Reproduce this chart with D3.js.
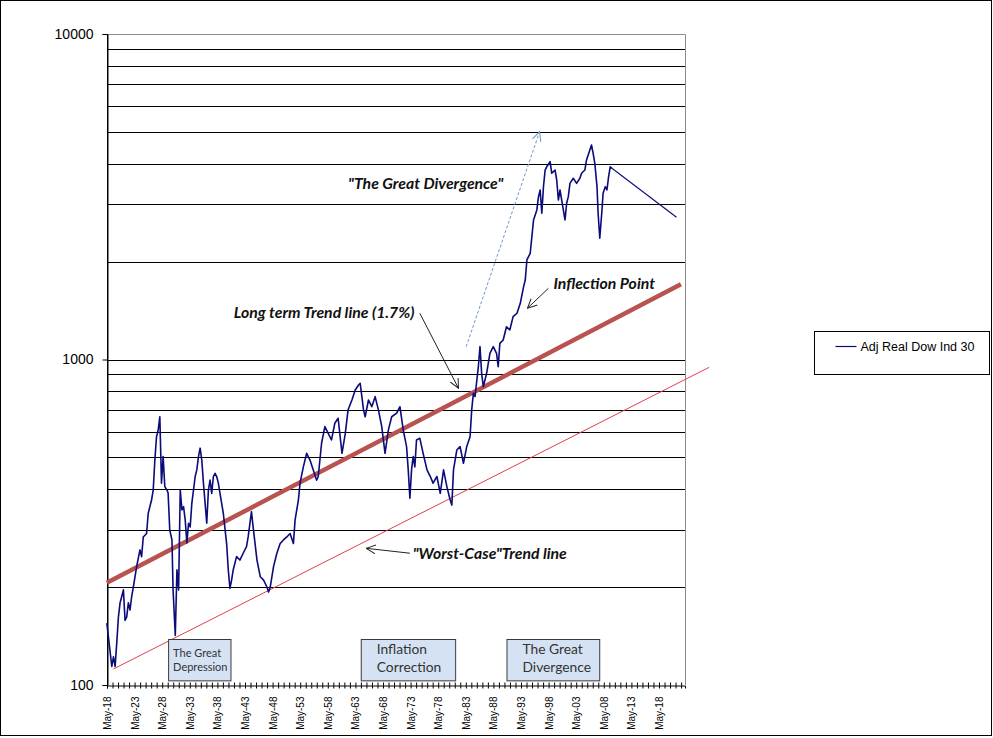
<!DOCTYPE html>
<html>
<head>
<meta charset="utf-8">
<script src="https://cdn.jsdelivr.net/npm/d3@7"></script>
<style>
  html, body { margin:0; padding:0; background:#fff; }
  svg { display:block; }
</style>
</head>
<body>
<div id="chart"></div>
<script>
// dow.js

// ── data (decimal year, real index value) ─────────────────────────────────
const YEARS = [
  1918.3,1919.2,1919.5,1919.8,1920.1,1920.4,1920.7,1921.0,1921.3,1921.6,1921.9,1922.2,1922.5,1922.8,
  1923.1,1923.7,1924.3,1924.6,1924.9,1925.5,1925.8,1926.4,1926.7,1927.0,1927.3,1927.6,1927.9,1928.2,
  1928.5,1928.8,1929.2,1929.4,1929.7,1930.1,1930.3,1930.7,1931.0,1931.3,1931.6,1931.9,1932.2,1932.5,
  1932.8,1933.1,1933.4,1933.7,1934.0,1934.3,1934.6,1934.9,1935.2,1935.5,1935.8,1936.1,1936.4,1936.7,
  1937.0,1937.3,1937.6,1937.9,1938.2,1938.5,1938.8,1939.4,1940.0,1940.3,1940.6,1940.9,1941.2,1941.8,
  1942.4,1943.0,1943.6,1943.9,1944.5,1944.8,1945.5,1946.1,1946.7,1947.3,1947.6,1947.9,1948.5,1949.1,
  1949.7,1950.3,1950.9,1951.5,1952.1,1952.4,1953.0,1953.3,1953.9,1954.5,1955.1,1955.7,1956.3,1956.6,
  1957.2,1957.8,1958.4,1959.0,1959.6,1960.2,1960.9,1961.5,1962.0,1962.7,1963.3,1963.9,1964.2,1964.8,
  1965.1,1965.7,1966.3,1966.9,1967.5,1968.1,1968.7,1969.3,1969.9,1970.8,1971.4,1972.0,1972.6,1972.9,
  1973.2,1973.5,1973.8,1974.1,1974.4,1975.0,1975.6,1976.3,1976.9,1977.4,1978.1,1978.7,1979.3,1979.9,
  1980.5,1980.8,1981.1,1981.7,1982.3,1982.9,1983.5,1984.1,1984.4,1984.7,1985.0,1985.6,1985.9,1986.2,
  1986.5,1987.1,1987.7,1988.3,1988.9,1989.2,1989.5,1990.1,1990.7,1991.3,1991.9,1992.6,1993.2,1993.8,
  1994.1,1994.4,1995.0,1995.3,1995.6,1996.2,1996.5,1996.8,1997.1,1997.4,1997.7,1998.0,1998.6,1998.9,
  1999.5,1999.8,2000.1,2000.4,2000.7,2001.3,2001.6,2001.9,2002.2,2002.8,2003.4,2004.0,2004.3,2004.9,
  2005.2,2005.8,2006.1,2006.4,2006.7,2007.1,2007.3,2007.6,2008.0,2008.2,2008.6,2008.9,2009.2,2009.5,
  2009.8,2021.5
];
const DOW = [
  155,114,122,114,135,162,179,187,196,158,162,179,170,187,
  200,231,260,248,285,292,337,370,397,491,579,607,667,417,
  503,407,397,389,299,279,196,142,226,196,397,345,353,321,
  273,314,306,362,397,437,458,503,534,491,417,362,314,397,
  426,388,437,447,437,417,388,337,272,226,198,210,226,248,
  242,254,266,285,341,306,242,215,210,200,193,200,231,254,
  272,279,285,292,272,321,370,417,468,515,491,458,426,437,
  553,622,593,566,637,660,515,593,700,751,806,835,845,700,
  667,751,716,769,700,622,515,607,667,684,716,607,540,458,
  375,458,503,468,566,573,515,458,437,417,437,388,458,407,
  370,357,458,527,540,480,540,579,700,787,769,950,1095,907,
  825,907,1045,1095,1045,950,1121,1148,1261,1232,1354,1387,1488,1674,
  1755,2022,2120,2384,2683,2880,3164,3317,2813,3396,3820,3911,4052,3733,
  3820,3560,3090,3317,3090,2683,3019,3164,3477,3603,3477,3603,3733,3820,
  4102,4401,4560,4300,4007,3396,2813,2357,2880,3240,3396,3317,3644,3911,
  3867,2735
];
const SERIES_NAME = "Adj Real Dow Ind 30";

const LABEL_YEARS = [1918,1923,1928,1933,1938,1943,1948,1953,1958,1963,1968,1973,1978,1983,1988,1993,1998,2003,2008,2013,2018];
const TICK_YEARS  = d3.range(1918, 2023);
const Y_TICKS     = [100, 1000, 10000];
const GRID_VALUES = [200,300,400,500,600,700,800,900,1000,2000,3000,4000,5000,6000,7000,8000,9000];

// trend lines, [year, value] endpoints
const TREND_LONG  = [[1918.3, 206], [2022.3, 1702]];
const TREND_WORST = [[1919.5, 112], [2027.4, 946]];

// annotation arrows [from, to]
const ARROW_DIVERGE = [[1983.4, 1095], [1996.7, 5010]];
const ARROW_LONG    = [[1975.0, 1387], [1982.0, 816]];
const ARROW_INFLECT = [[1998.3, 1655], [1994.5, 1437]];
const ARROW_WORST   = [[1973.2, 254], [1965.3, 263]];

const NOTES = [
  { text: "\"The Great Divergence\"",   at: [1962.0, 3485] },
  { text: "Long term Trend line (1.7%)", at: [1941.3, 1393] },
  { text: "Inflection Point",            at: [1999.2, 1715] },
  { text: "\"Worst-Case\"Trend line",    at: [1973.7, 254] },
];

const ERA_BOXES = [
  { lines: ["The Great", "Depression"], from: 1929.4, to: 1940.7 },
  { lines: ["Inflation", "Correction"], from: 1964.3, to: 1981.4 },
  { lines: ["The Great", "Divergence"], from: 1990.7, to: 2007.5 },
];

// ── layout ────────────────────────────────────────────────────────────────
const W = 993, H = 738;
const plot = { left:107, right:685, top:34, bottom:685 };

const svg = d3.select("#chart").append("svg")
  .attr("width", W).attr("height", H);

svg.append("rect")
  .attr("x", 0.5).attr("y", 0.5)
  .attr("width", W - 2).attr("height", H - 3)
  .attr("fill", "#fff").attr("stroke", "#000");

const x = d3.scaleLinear()
  .domain([1918.33, 2023.04])
  .range([plot.left, plot.right]);

const y = d3.scaleLog()
  .domain([100, 10000])
  .range([plot.bottom, plot.top]);

const P = d => [x(d[0]), y(d[1])];

// gridlines
svg.append("g").selectAll("line")
  .data(GRID_VALUES)
  .enter().append("line")
  .attr("x1", plot.left).attr("x2", plot.right)
  .attr("y1", d => Math.round(y(d)) + 0.5).attr("y2", d => Math.round(y(d)) + 0.5)
  .attr("stroke", "#000").attr("stroke-width", 1);

// plot border (top / right) in grey
svg.append("path")
  .attr("d", `M${plot.left},${plot.top + 0.5}H${plot.right + 0.5}V${plot.bottom}`)
  .attr("fill", "none").attr("stroke", "#8c8c8c");

// ── y axis ──
const yAxis = svg.append("g")
  .attr("transform", `translate(${plot.left + 0.5},0)`)
  .call(d3.axisLeft(y).tickValues(Y_TICKS).tickFormat(d3.format("d")).tickSize(5).tickPadding(9));
yAxis.select(".domain").attr("stroke", "#000");
yAxis.selectAll("text")
  .style("font-family", "'Liberation Sans', Arial, sans-serif")
  .style("font-size", "14px").attr("fill", "#000");

// ── x axis (cross ticks every year, label every 5) ──
const xAxisDown = svg.append("g")
  .attr("transform", `translate(0,${plot.bottom + 0.5})`)
  .call(d3.axisBottom(x)
    .tickValues(TICK_YEARS.map(v => v + 0.33))
    .tickSize(3)
    .tickFormat(""));
xAxisDown.select(".domain").attr("stroke", "#000");

svg.append("g")
  .attr("transform", `translate(0,${plot.bottom + 0.5})`)
  .call(d3.axisTop(x)
    .tickValues(TICK_YEARS.map(v => v + 0.33))
    .tickSize(3)
    .tickFormat(""))
  .select(".domain").remove();

const xLabels = svg.append("g")
  .attr("transform", `translate(0,${plot.bottom + 0.5})`)
  .call(d3.axisBottom(x)
    .tickValues(LABEL_YEARS.map(v => v + 0.33))
    .tickSize(0)
    .tickFormat(d => "May-" + String(Math.round(d)).slice(2)));
xLabels.select(".domain").remove();
xLabels.selectAll("text")
  .attr("transform", "rotate(-90)")
  .attr("x", -11).attr("y", 0).attr("dy", "0.35em")
  .attr("text-anchor", "end")
  .style("font-family", "'Liberation Sans', Arial, sans-serif")
  .style("font-size", "10px").attr("fill", "#000");

// y axis line drawn on top of gridlines
svg.append("line")
  .attr("x1", plot.left + 0.5).attr("x2", plot.left + 0.5)
  .attr("y1", plot.top).attr("y2", plot.bottom)
  .attr("stroke", "#000");

// ── trend lines ──
svg.append("line")
  .attr("x1", P(TREND_LONG[0])[0]).attr("y1", P(TREND_LONG[0])[1])
  .attr("x2", P(TREND_LONG[1])[0]).attr("y2", P(TREND_LONG[1])[1])
  .attr("stroke", "#b9534f").attr("stroke-width", 4.5);

svg.append("line")
  .attr("x1", P(TREND_WORST[0])[0]).attr("y1", P(TREND_WORST[0])[1])
  .attr("x2", P(TREND_WORST[1])[0]).attr("y2", P(TREND_WORST[1])[1])
  .attr("stroke", "#e0404a").attr("stroke-width", 1);

// ── the series (last leg is the straight projection, drawn thinner) ──
const series = YEARS.map((yr, i) => [yr, DOW[i]]);
const line = d3.line().x(d => x(d[0])).y(d => y(d[1]));
svg.append("path")
  .datum(series.slice(0, -1))
  .attr("d", line)
  .attr("fill", "none")
  .attr("stroke", "#0b0b7a")
  .attr("stroke-width", 1.6)
  .attr("stroke-linejoin", "round");
svg.append("path")
  .datum(series.slice(-2))
  .attr("d", line)
  .attr("fill", "none")
  .attr("stroke", "#0b0b7a")
  .attr("stroke-width", 1.1);

// ── arrows ──
const defs = svg.append("defs");
function marker(id, color) {
  defs.append("marker")
    .attr("id", id)
    .attr("viewBox", "0 -5 10 10")
    .attr("refX", 9.5).attr("refY", 0)
    .attr("markerUnits", "userSpaceOnUse")
    .attr("markerWidth", 10).attr("markerHeight", 10)
    .attr("orient", "auto")
    .append("path")
    .attr("d", "M0,-4.5L9.5,0L0,4.5")
    .attr("fill", "none")
    .attr("stroke", color).attr("stroke-width", 1);
}
marker("arrow-dark", "#222");
marker("arrow-blue", "#6f93c8");

function arrow(pts, color, markerId, dash) {
  const a = P(pts[0]), b = P(pts[1]);
  svg.append("line")
    .attr("x1", a[0]).attr("y1", a[1])
    .attr("x2", b[0]).attr("y2", b[1])
    .attr("stroke", color).attr("stroke-width", 1)
    .attr("stroke-dasharray", dash || null)
    .attr("marker-end", `url(#${markerId})`);
}
arrow(ARROW_DIVERGE, "#6f93c8", "arrow-blue", "3,2");
arrow(ARROW_LONG,    "#222", "arrow-dark");
arrow(ARROW_INFLECT, "#222", "arrow-dark");
arrow(ARROW_WORST,   "#222", "arrow-dark");

// ── notes ──
svg.append("g").selectAll("text")
  .data(NOTES)
  .enter().append("text")
  .attr("x", d => P(d.at)[0])
  .attr("y", d => P(d.at)[1])
  .attr("dy", "0.35em")
  .style("font-family", "Lato, 'Open Sans', sans-serif")
  .style("font-size", "15.8px")
  .style("font-weight", "bold")
  .style("font-style", "italic")
  .attr("fill", "#111")
  .text(d => d.text);

// ── era boxes ──
const BOX_TOP = 138, BOX_BOTTOM = 103;
const box = svg.append("g").selectAll("g")
  .data(ERA_BOXES)
  .enter().append("g");

box.append("rect")
  .attr("x", d => x(d.from) + 0.5)
  .attr("y", Math.round(y(BOX_TOP)) + 0.5)
  .attr("width", d => x(d.to) - x(d.from))
  .attr("height", y(BOX_BOTTOM) - y(BOX_TOP))
  .attr("fill", "#d5e2f4")
  .attr("stroke", "#3a3a3a");

box.each(function(d, i) {
  const small = i === 0;
  const left  = x(d.from) + (small ? 5 : 16);
  const top   = y(BOX_TOP);
  d3.select(this).selectAll("text")
    .data(d.lines)
    .enter().append("text")
    .attr("x", left)
    .attr("y", (t, j) => top + (small ? 13.5 : 9.5) + j * (small ? 14.5 : 18.5))
    .attr("dy", "0.35em")
    .style("font-family", "Lato, 'Open Sans', sans-serif")
    .style("font-size", small ? "11px" : "13.8px")
    .attr("fill", "#333")
    .text(t => t);
});

// ── legend ──
const legend = svg.append("g").attr("transform", "translate(814.5,331.5)");
legend.append("rect")
  .attr("width", 175).attr("height", 43)
  .attr("fill", "#fff").attr("stroke", "#000");
legend.append("line")
  .attr("x1", 21).attr("x2", 42).attr("y1", 15).attr("y2", 15)
  .attr("stroke", "#0b0b7a").attr("stroke-width", 1.2);
legend.append("text")
  .attr("x", 46).attr("y", 15).attr("dy", "0.35em")
  .style("font-family", "'Liberation Sans', Arial, sans-serif")
  .style("font-size", "12.5px")
  .attr("fill", "#000")
  .text(SERIES_NAME);
</script>
</body>
</html>
